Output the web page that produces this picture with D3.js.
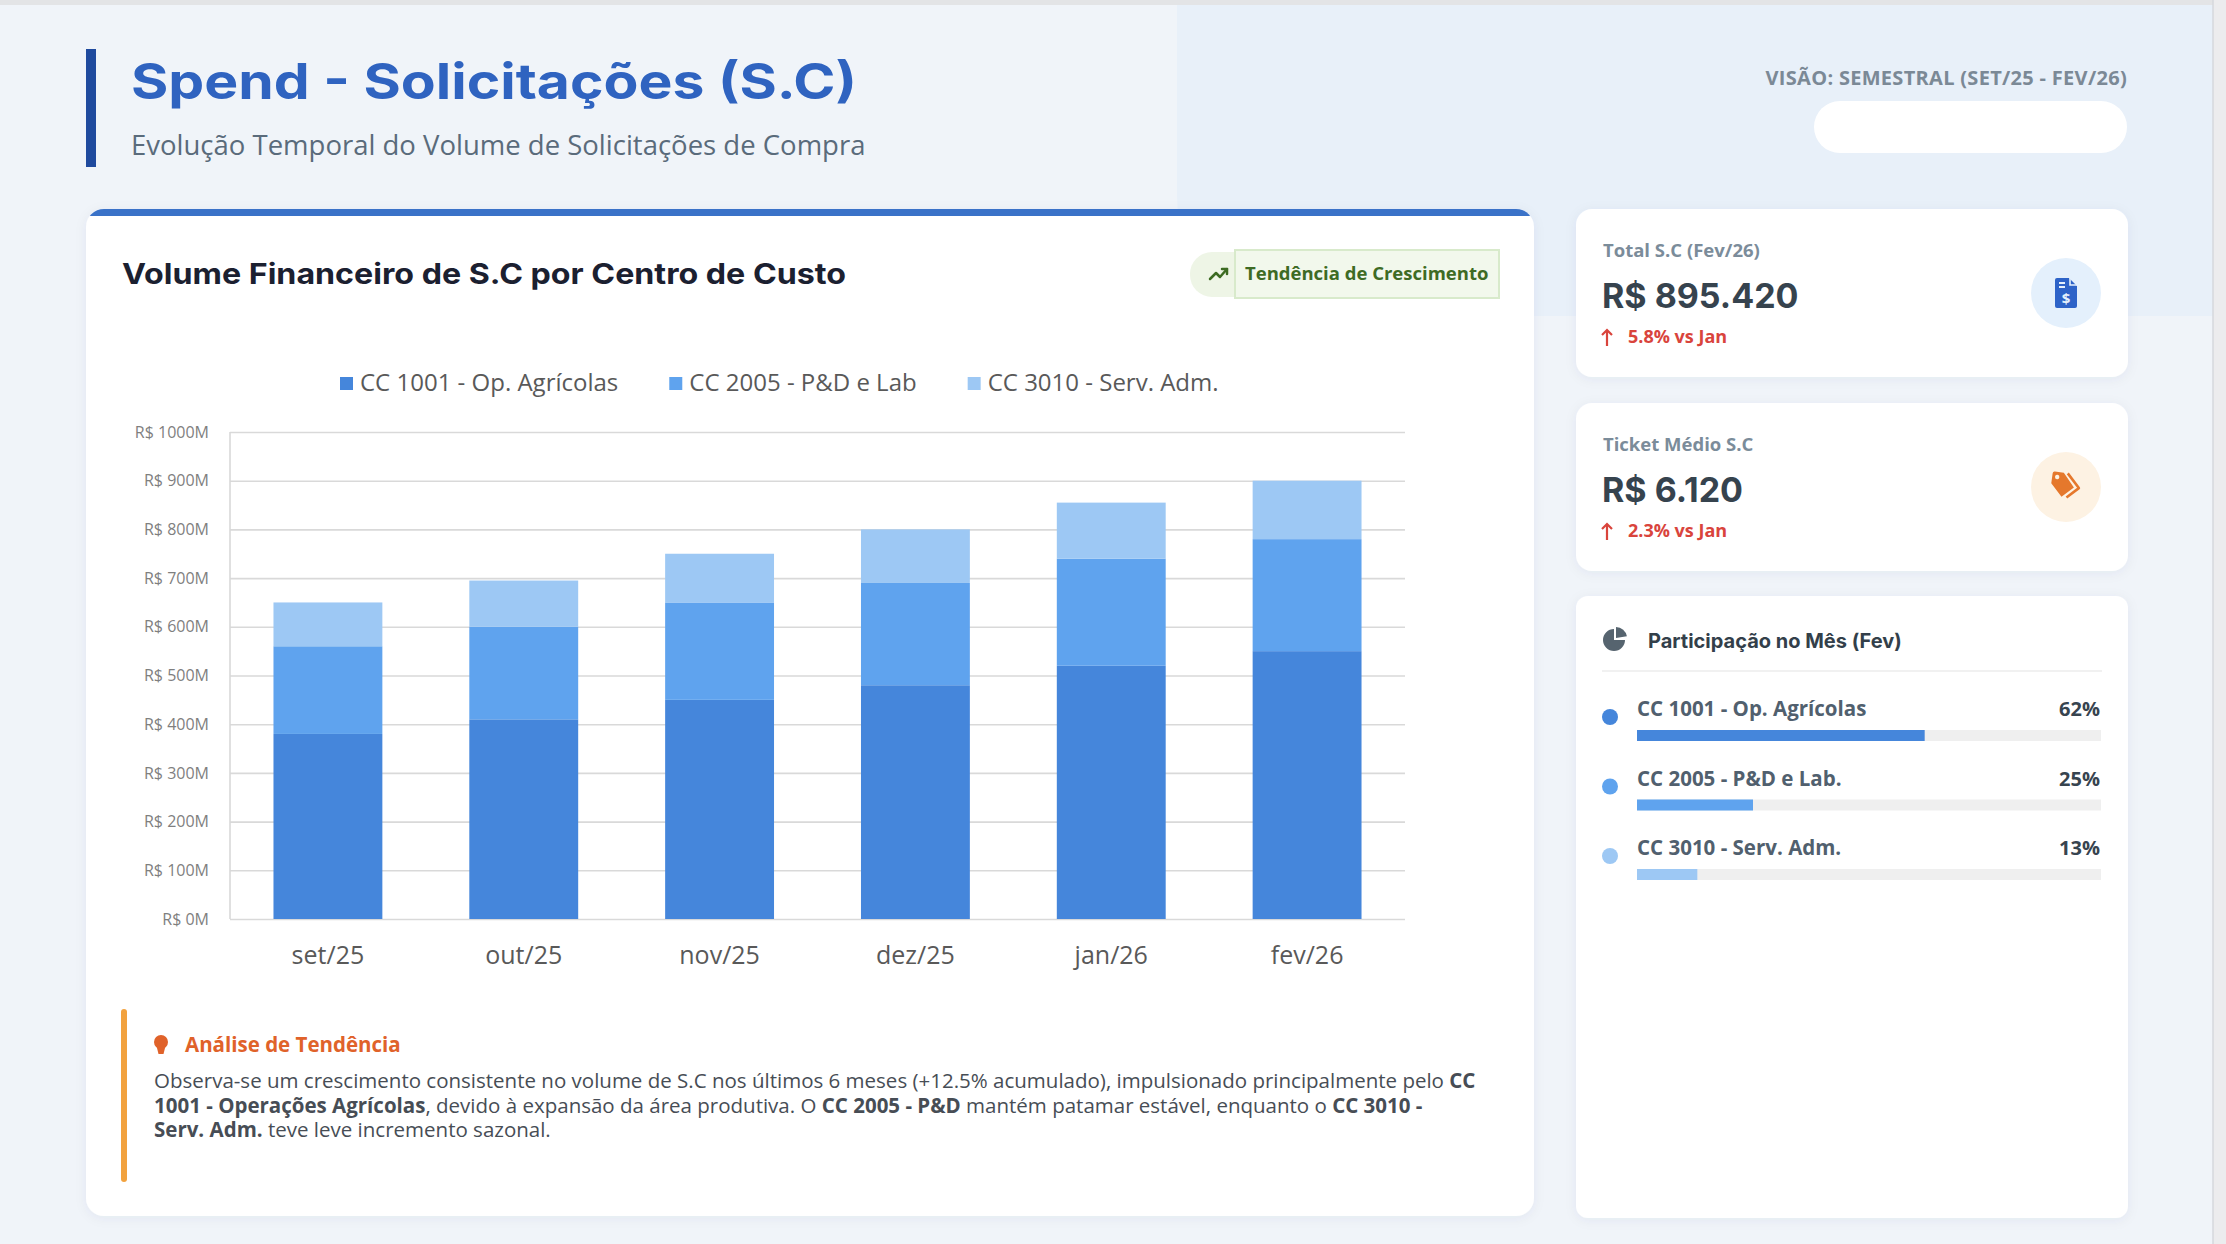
<!DOCTYPE html>
<html lang="pt-BR">
<head>
<meta charset="utf-8">
<title>Spend - Solicitações (S.C)</title>
<script src="https://cdn.jsdelivr.net/npm/d3@7"></script>
<style>
  html, body { margin: 0; padding: 0; background: #f0f4f9; }
  svg { display: block; }
  .head { font-family: Inter, "Noto Sans", sans-serif; font-weight: 700; }
  .body { font-family: "Open Sans", "Noto Sans", sans-serif; }
</style>
</head>
<body>
<svg id="page" width="2226" height="1244"></svg>
<script>
// ---- data ----
const months = ["set/25", "out/25", "nov/25", "dez/25", "jan/26", "fev/26"];
const seriesNames = ["CC 1001 - Op. Agrícolas", "CC 2005 - P&D e Lab", "CC 3010 - Serv. Adm."];
const cc1001 = [380, 410, 450, 480, 520, 550];   // R$ M
const cc2005 = [180, 190, 200, 210, 220, 230];
const cc3010 = [90, 95, 100, 110, 115, 120];
const yTicks = [0, 100, 200, 300, 400, 500, 600, 700, 800, 900, 1000];
const seriesColors = ["#4586db", "#5fa3ee", "#9dc8f4"];

const kpiLabels = ["Total S.C (Fev/26)", "Ticket Médio S.C"];
const kpiValues = ["R$ 895.420", "R$ 6.120"];
const kpiDeltas = ["5.8% vs Jan", "2.3% vs Jan"];

const shareLabels = ["CC 1001 - Op. Agrícolas", "CC 2005 - P&D e Lab.", "CC 3010 - Serv. Adm."];
const shareValues = [62, 25, 13];   // %

const analysisLines = [
  [["Observa-se um crescimento consistente no volume de S.C nos últimos 6 meses (+12.5% acumulado), impulsionado principalmente pelo ", false], ["CC", true]],
  [["1001 - Operações Agrícolas", true], [", devido à expansão da área produtiva. O ", false], ["CC 2005 - P&D", true], [" mantém patamar estável, enquanto o ", false], ["CC 3010 -", true]],
  [["Serv. Adm.", true], [" teve leve incremento sazonal.", false]]
];

const svg = d3.select("#page");
const defs = svg.append("defs");
const shadow = defs.append("filter").attr("id", "shadow")
    .attr("x", "-10%").attr("y", "-10%").attr("width", "120%").attr("height", "130%");
shadow.append("feDropShadow").attr("dx", 0).attr("dy", 2).attr("stdDeviation", 6)
    .attr("flood-color", "#1e3a60").attr("flood-opacity", 0.06);

// page background + window edges
svg.append("rect").attr("width", 2226).attr("height", 1244).attr("fill", "#f0f4f9");
svg.append("rect").attr("x", 1177).attr("y", -300).attr("width", 1200).attr("height", 616)
    .attr("rx", 120).attr("fill", "#e8f0f9");
svg.append("rect").attr("width", 2226).attr("height", 5).attr("fill", "#e3e4e6");
svg.append("rect").attr("x", 2213).attr("width", 13).attr("height", 1244).attr("fill", "#ececee");
svg.append("line").attr("x1", 2213).attr("x2", 2213).attr("y1", 0).attr("y2", 1244)
    .attr("stroke", "#d6d8dc").attr("stroke-width", 1.5);

// ---- header ----
svg.append("rect").attr("x", 86).attr("y", 49).attr("width", 10).attr("height", 118).attr("fill", "#1f4a9e");
svg.append("text").attr("class", "head").attr("x", 131).attr("y", 99)
    .attr("font-size", 49).attr("fill", "#2f63c0")
    .attr("textLength", 726).attr("lengthAdjust", "spacingAndGlyphs")
    .text("Spend - Solicitações (S.C)");
svg.append("text").attr("class", "body").attr("x", 131).attr("y", 155)
    .attr("font-size", 27.5).attr("fill", "#5a6b7b").text("Evolução Temporal do Volume de Solicitações de Compra");
svg.append("text").attr("class", "body").attr("x", 2127).attr("y", 85).attr("text-anchor", "end")
    .attr("font-size", 20).attr("font-weight", 700).attr("letter-spacing", 0.3).attr("fill", "#7b8996")
    .text("VISÃO: SEMESTRAL (SET/25 - FEV/26)");
svg.append("rect").attr("x", 1814).attr("y", 101).attr("width", 313).attr("height", 52)
    .attr("rx", 26).attr("fill", "#fff");

// ---- main chart card ----
defs.append("clipPath").attr("id", "cardClip")
  .append("rect").attr("x", 86).attr("y", 209).attr("width", 1448).attr("height", 1007).attr("rx", 18);
svg.append("rect").attr("x", 86).attr("y", 209).attr("width", 1448).attr("height", 1007)
    .attr("rx", 18).attr("fill", "#fff").attr("filter", "url(#shadow)");
svg.append("rect").attr("clip-path", "url(#cardClip)").attr("x", 86).attr("y", 209)
    .attr("width", 1448).attr("height", 7).attr("fill", "#3a72c8");

svg.append("text").attr("class", "head").attr("x", 122).attr("y", 284)
    .attr("font-size", 29).attr("fill", "#1b2030")
    .attr("textLength", 724).attr("lengthAdjust", "spacingAndGlyphs")
    .text("Volume Financeiro de S.C por Centro de Custo");

// growth badge
svg.append("rect").attr("x", 1190).attr("y", 252).attr("width", 300).attr("height", 45)
    .attr("rx", 22).attr("fill", "#eef5e6");
svg.append("rect").attr("x", 1235).attr("y", 250).attr("width", 264).attr("height", 48)
    .attr("fill", "#f2f8ec").attr("stroke", "#d8eacb").attr("stroke-width", 2);
const trend = svg.append("g").attr("transform", "translate(1219,273)")
    .attr("fill", "none").attr("stroke", "#3d6b22").attr("stroke-width", 2.5)
    .attr("stroke-linecap", "round").attr("stroke-linejoin", "round");
trend.append("path").attr("d", "M-9,6 L-3,0 L1,4 L8,-4");
trend.append("path").attr("d", "M3,-4 L8,-4 L8,1");
svg.append("text").attr("class", "body").attr("x", 1245).attr("y", 280)
    .attr("font-size", 18.5).attr("font-weight", 700).attr("fill", "#3e6b24").text("Tendência de Crescimento");

// legend
const legend = svg.append("g").attr("class", "body");
let lx = 340;
seriesNames.forEach((name, i) => {
  legend.append("rect").attr("x", lx).attr("y", 377).attr("width", 13).attr("height", 13).attr("fill", seriesColors[i]);
  const t = legend.append("text").attr("x", lx + 20).attr("y", 391)
      .attr("font-size", 24).attr("fill", "#595959").text(name);
  lx += 20 + t.node().getComputedTextLength() + 51;
});

// plot
const plot = { left: 230, right: 1405, top: 432, bottom: 919 };
const x = d3.scaleBand().domain(months).range([plot.left, plot.right])
    .paddingInner(0.444).paddingOuter(0.222);
const y = d3.scaleLinear().domain([0, 1000]).range([plot.bottom, plot.top]);

const grid = svg.append("g").attr("transform", `translate(${plot.left},0)`)
    .call(d3.axisLeft(y).tickValues(yTicks).tickSize(-(plot.right - plot.left)).tickFormat(""));
grid.select(".domain").remove();
grid.selectAll("line").attr("stroke", "#d9d9d9").attr("stroke-width", 1.6);
svg.append("line").attr("x1", plot.left).attr("x2", plot.left).attr("y1", plot.top).attr("y2", plot.bottom)
    .attr("stroke", "#d9d9d9").attr("stroke-width", 1.6);

const yAxis = svg.append("g").attr("transform", `translate(${plot.left - 18},0)`)
    .call(d3.axisLeft(y).tickValues(yTicks).tickSize(0).tickFormat(d => `R$ ${d}M`));
yAxis.select(".domain").remove();
yAxis.selectAll("text").attr("class", "body").attr("font-size", 16).attr("fill", "#7f7f7f");

const rows = months.map((m, i) => ({ month: m, a: cc1001[i], b: cc2005[i], c: cc3010[i] }));
const stacked = d3.stack().keys(["a", "b", "c"])(rows);
svg.append("g").selectAll("g").data(stacked).join("g")
    .attr("fill", (d, i) => seriesColors[i])
  .selectAll("rect").data(d => d).join("rect")
    .attr("x", d => x(d.data.month))
    .attr("y", d => y(d[1]))
    .attr("width", x.bandwidth())
    .attr("height", d => y(d[0]) - y(d[1]));

const xAxis = svg.append("g").attr("transform", `translate(0,${plot.bottom})`)
    .call(d3.axisBottom(x).tickSize(0));
xAxis.select(".domain").remove();
xAxis.selectAll("text").attr("class", "body").attr("font-size", 25).attr("fill", "#595959")
    .attr("y", 45).attr("dy", 0);

// analysis box
svg.append("rect").attr("x", 121).attr("y", 1009).attr("width", 1378).attr("height", 173).attr("fill", "#fff");
svg.append("rect").attr("x", 121).attr("y", 1009).attr("width", 6).attr("height", 173)
    .attr("rx", 3).attr("fill", "#f2a23e");
const bulb = svg.append("g").attr("transform", "translate(161,1042)").attr("fill", "#e0622a");
bulb.append("circle").attr("r", 7);
bulb.append("path").attr("d", "M-4.5,4 L4.5,4 L2.5,12 L-2.5,12 Z");
svg.append("text").attr("class", "body").attr("x", 185).attr("y", 1052)
    .attr("font-size", 20.5).attr("font-weight", 700).attr("fill", "#e0622a").text("Análise de Tendência");
const para = svg.append("g").attr("class", "body").attr("font-size", 20.5).attr("fill", "#474d55");
analysisLines.forEach((segs, i) => {
  const t = para.append("text").attr("x", 154).attr("y", 1088 + i * 24.5);
  segs.forEach(([s, bold]) => t.append("tspan").attr("font-weight", bold ? 700 : 400).text(s));
});

// ---- KPI cards ----
const kpiTop = [209, 403];
const iconBg = ["#e4f0fc", "#fdf2e3"];
kpiLabels.forEach((label, i) => {
  const g = svg.append("g").attr("transform", `translate(1576,${kpiTop[i]})`);
  g.append("rect").attr("width", 552).attr("height", 168).attr("rx", 16).attr("fill", "#fff")
      .attr("filter", "url(#shadow)");
  g.append("text").attr("class", "body").attr("x", 27).attr("y", 48)
      .attr("font-size", 18.5).attr("font-weight", 700).attr("fill", "#7b8c9a").text(label);
  g.append("text").attr("class", "head").attr("x", 26).attr("y", 99)
      .attr("font-size", 34).attr("fill", "#36434e").text(kpiValues[i]);
  g.append("path").attr("d", "M31,137 V121 M26,126 L31,121 L36,126")
      .attr("fill", "none").attr("stroke", "#d9443c").attr("stroke-width", 2.2);
  g.append("text").attr("class", "body").attr("x", 52).attr("y", 134)
      .attr("font-size", 18).attr("font-weight", 700).attr("fill", "#d9443c").text(kpiDeltas[i]);
  g.append("circle").attr("cx", 490).attr("cy", 84).attr("r", 35).attr("fill", iconBg[i]);
});

// invoice icon
const inv = svg.append("g").attr("transform", "translate(2066,293)");
inv.append("path").attr("d", "M-11,-13 Q-11,-15 -9,-15 H3 L11,-7 V13 Q11,15 9,15 H-9 Q-11,15 -11,13 Z").attr("fill", "#2d63c8");
inv.append("path").attr("d", "M4,-15 V-8 H11").attr("fill", "none").attr("stroke", "#e4f0fc").attr("stroke-width", 1.6);
inv.append("rect").attr("x", -7).attr("y", -11).attr("width", 6).attr("height", 2).attr("fill", "#e4f0fc");
inv.append("rect").attr("x", -7).attr("y", -7).attr("width", 6).attr("height", 2).attr("fill", "#e4f0fc");
inv.append("text").attr("class", "body").attr("y", 11).attr("text-anchor", "middle")
    .attr("font-size", 15).attr("font-weight", 700).attr("fill", "#e4f0fc").text("$");

// tags icon
const tags = svg.append("g").attr("transform", "translate(2064,486) rotate(8)");
tags.append("path").attr("d", "M-13,-11 Q-13,-13 -11,-13 H-2 L10,0 L-1,11 L-13,-1 Z").attr("fill", "#e5782c");
tags.append("circle").attr("cx", -8).attr("cy", -8).attr("r", 2.2).attr("fill", "#fdf2e3");
tags.append("path").attr("d", "M2,-13 L15,0 L4,11").attr("fill", "none")
    .attr("stroke", "#e5782c").attr("stroke-width", 2.6).attr("stroke-linejoin", "round");

// ---- share card ----
const share = svg.append("g").attr("transform", "translate(1576,596)");
share.append("rect").attr("width", 552).attr("height", 622).attr("rx", 12).attr("fill", "#fff")
    .attr("filter", "url(#shadow)");
const pieArc = d3.arc().innerRadius(0);
const pie = share.append("g").attr("transform", "translate(38,44)").attr("fill", "#56646f");
pie.append("path").attr("d", pieArc({ outerRadius: 11, startAngle: Math.PI / 2, endAngle: 2 * Math.PI }));
pie.append("path").attr("transform", "translate(2,-2)")
    .attr("d", pieArc({ outerRadius: 11, startAngle: 0, endAngle: Math.PI / 2 - 0.15 }));
share.append("text").attr("class", "head").attr("x", 72).attr("y", 52)
    .attr("font-size", 20).attr("fill", "#333f4a").text("Participação no Mês (Fev)");
share.append("line").attr("x1", 26).attr("x2", 526).attr("y1", 75).attr("y2", 75)
    .attr("stroke", "#ececec").attr("stroke-width", 1.5);

const barW = d3.scaleLinear().domain([0, 100]).range([0, 464]);
const item = share.selectAll("g.item").data(shareLabels).join("g").attr("class", "item body")
    .attr("transform", (d, i) => `translate(0,${120 + i * 69.5})`);
item.append("circle").attr("cx", 34).attr("cy", 1).attr("r", 8).attr("fill", (d, i) => seriesColors[i]);
item.append("text").attr("x", 61).attr("y", 0).attr("font-size", 20.5).attr("font-weight", 700)
    .attr("fill", "#51606e").text(d => d);
item.append("text").attr("x", 524).attr("y", 0).attr("text-anchor", "end").attr("font-size", 20)
    .attr("font-weight", 700).attr("fill", "#37444f").text((d, i) => `${shareValues[i]}%`);
item.append("rect").attr("x", 61).attr("y", 14).attr("width", barW(100)).attr("height", 11).attr("fill", "#efefef");
item.append("rect").attr("x", 61).attr("y", 14).attr("width", (d, i) => barW(shareValues[i]))
    .attr("height", 11).attr("fill", (d, i) => seriesColors[i]);
</script>
</body>
</html>
